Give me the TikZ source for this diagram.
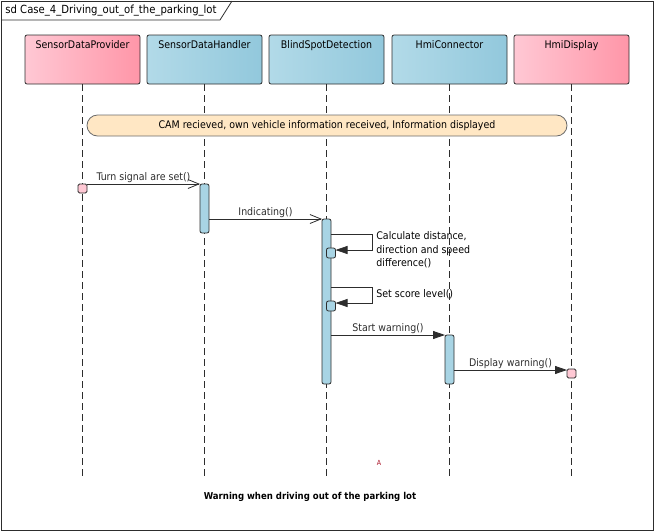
\documentclass[tikz,border=0pt]{standalone}
\usepackage{fontspec}
\setmainfont{DejaVu Sans Condensed}
\usetikzlibrary{arrows.meta,positioning,calc}

\definecolor{pinkL}{RGB}{255,200,212}
\definecolor{pinkR}{RGB}{255,150,168}
\definecolor{blueL}{RGB}{178,218,232}
\definecolor{blueR}{RGB}{146,200,220}
\definecolor{actBlue}{RGB}{168,212,228}
\definecolor{peach}{RGB}{255,231,196}
\definecolor{edge}{RGB}{45,45,45}
\definecolor{markRed}{RGB}{170,20,40}

\begin{document}
\begin{tikzpicture}[x=1pt, y=-1pt, line width=0.8pt, every node/.style={font=\fontsize{10.5}{13.3}\selectfont}, node distance=7pt,
  head/.style={draw=edge, rounded corners=2pt, minimum width=115pt, inner sep=4pt, outer sep=0pt, text height=9.5pt, text depth=31.5pt},
  pinkhead/.style={head, left color=pinkL, right color=pinkR},
  bluehead/.style={head, left color=blueL, right color=blueR},
  act/.style={draw=edge, fill=actBlue, rounded corners=2pt, minimum width=9pt, inner sep=0pt, outer sep=0pt},
  subact/.style={act, minimum height=10pt},
  endsq/.style={draw=edge, fill=pinkL, rounded corners=1.5pt, minimum size=9pt, inner sep=0pt, outer sep=0pt},
  life/.style={edge, dash pattern=on 7pt off 4pt},
  async/.style={edge, -{Straight Barb[length=11pt,width=9pt]}},
  sync/.style={edge, -{Triangle[length=12pt,width=8pt]}},
  msglbl/.style={midway, above=0pt, inner sep=0.5pt}]
\useasboundingbox (0,0) rectangle (654,531);

% frame
\node[draw=edge, anchor=north west, minimum width=652pt, minimum height=529pt, inner sep=0pt] (frame) at (1,1) {};
\node[anchor=west, inner sep=0pt, font=\fontsize{11.2}{13}\selectfont] (title) at (5,10.5) {sd Case\_4\_Driving\_out\_of\_the\_parking\_lot};
\draw[edge] (frame.west |- 0,20) -- (220,20) -- (232,1);

% lifeline heads
\node[pinkhead] (sdp) at (82.5,59.5) {SensorDataProvider};
\node[bluehead, right=of sdp] (sdh) {SensorDataHandler};
\node[bluehead, right=of sdh] (bsd) {BlindSpotDetection};
\node[bluehead, right=8pt of bsd] (hmic) {HmiConnector};
\node[pinkhead, right=of hmic] (hmid) {HmiDisplay};

\coordinate (bottom) at (0,477);
\draw[life] (sdp) -- (sdp |- bottom);
\draw[life] (sdh) -- (sdh |- bottom);
\draw[life] (bsd) -- (bsd |- bottom);
\draw[life] (hmic) -- (hmic |- bottom);
\draw[life] (hmid) -- (hmid |- bottom);

% state
\node[draw=edge!70, fill=peach, rounded corners=10.5pt, minimum width=480pt, minimum height=21pt] (cond) at (327,125.5) {CAM recieved, own vehicle information received, Information displayed};

% activations
\node[endsq, anchor=north] (sqSDP) at (sdp |- 0,184) {};
\node[act, anchor=north, minimum height=49pt] (actSDH) at (sdh |- 0,184) {};
\node[act, anchor=north, minimum height=165pt] (actBSD) at (bsd |- 0,219) {};
\node[subact, anchor=north] (calcAct) at (actBSD.east |- 0,248) {};
\node[subact, anchor=north] (scoreAct) at (actBSD.east |- 0,301) {};
\node[act, anchor=north, minimum height=49pt] (actHC) at (hmic |- 0,335) {};
\node[endsq, anchor=north] (sqHMI) at (hmid |- 0,369) {};

% messages
\draw[async] (sqSDP.north east) -- (actSDH.north west) node[msglbl] (lblTurn) {Turn signal are set()};
\draw[async] (actSDH.east |- actBSD.north) -- (actBSD.north west) node[msglbl] (lblInd) {Indicating()};
\draw[sync] (actBSD.east |- 0,234) -- ++(41,0) |- ([yshift=-2pt]calcAct.north east);
\node[anchor=north west, align=left, inner sep=0pt] (lblCalc) at (376,231.5) {Calculate distance,\\direction and speed\\difference()};
\draw[sync] (actBSD.east |- 0,287) -- ++(41,0) |- ([yshift=-2pt]scoreAct.north east);
\node[anchor=base west, inner sep=0pt] (lblScore) at (376,297.5) {Set score level()};
\draw[sync] (actBSD.east |- actHC.north) -- (actHC.north west) node[msglbl] (lblStart) {Start warning()};
\draw[sync] (actHC.east |- 0,370) -- ([yshift=-1pt]sqHMI.north west) node[msglbl] (lblDisp) {Display warning()};

% notes
\node[text=markRed, font=\fontsize{7}{8}\selectfont] (mark) at (379,463) {A};
\node[font=\bfseries\fontsize{9.5}{11}\selectfont] (caption) at (310,497) {Warning when driving out of the parking lot};
\end{tikzpicture}
\end{document}
